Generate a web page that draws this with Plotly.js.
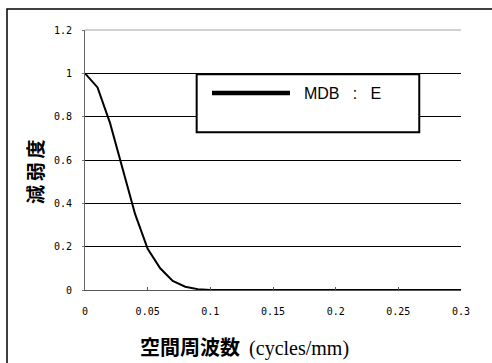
<!DOCTYPE html>
<html>
<head>
<meta charset="utf-8">
<script src="https://cdn.plot.ly/plotly-3.0.1.min.js"></script>
<style>html,body{margin:0;padding:0;background:#fff;}#chart{width:492px;height:363px;}</style>
</head>
<body>
<div id="chart"></div>
<script>
const seriesName = "\u00a0\u00a0MDB \u00a0\u00a0:\u00a0\u00a0 E";
const freq = [0, 0.01, 0.02, 0.03, 0.04, 0.05, 0.06, 0.07, 0.08, 0.09, 0.1, 0.15, 0.2, 0.25, 0.3];
const attenuation = [1.0, 0.935, 0.77, 0.56, 0.35, 0.19, 0.10, 0.042, 0.015, 0.004, 0.0, 0.0, 0.0, 0.0, 0.0];
const xTicks = [0, 0.05, 0.1, 0.15, 0.2, 0.25, 0.3];
const xTickText = ["0", "0.05", "0.1", "0.15", "0.2", "0.25", "0.3"];
const yTicks = [0, 0.2, 0.4, 0.6, 0.8, 1, 1.2];
const yTickText = ["0", "0.2", "0.4", "0.6", "0.8", "1", "1.2"];
const xTitle = '<span style="font-family:Noto Sans CJK JP">空間周波数</span>  <span style="font-family:Liberation Serif;font-weight:normal">(cycles/mm)</span>';
const yTitle = "減\u2009弱\u2009度";

const tickFont = {family: "DejaVu Sans Mono", size: 10, color: "#000"};

const data = [
  {x: freq, y: attenuation, type: "scatter", mode: "lines",
   name: seriesName, showlegend: false,
   line: {color: "#000", width: 2}},
  // legend-only entry (single point -> no visible line in plot), thicker sample like the reference
  {x: freq.slice(0, 1), y: attenuation.slice(0, 1), type: "scatter", mode: "lines",
   name: seriesName, showlegend: true, hoverinfo: "skip",
   line: {color: "#000", width: 4.5}}
];

const layout = {
  width: 492, height: 363,
  margin: {l: 85, r: 31, t: 30, b: 73},
  paper_bgcolor: "#fff", plot_bgcolor: "#fff",
  showlegend: true,
  legend: {
    x: (207 - 85) / 376, y: (290 - 76) / 260, xanchor: "left", yanchor: "top",
    bgcolor: "rgba(0,0,0,0)", borderwidth: 0,
    font: {family: "Liberation Sans", size: 16, color: "#000"},
    itemwidth: 78
  },
  xaxis: {
    range: [0, 0.3], tickvals: xTicks, ticktext: xTickText,
    ticks: "inside", ticklen: 3, tickcolor: "#555",
    showline: true, linecolor: "#555", linewidth: 1,
    showgrid: false, zeroline: false, ticklabelstandoff: 12,
    tickfont: tickFont
  },
  yaxis: {
    range: [0, 1.2], tickvals: yTicks, ticktext: yTickText,
    ticks: "outside", ticklen: 2, tickcolor: "#777",
    showline: true, linecolor: "#666", linewidth: 1,
    showgrid: true, gridcolor: "#000", gridwidth: 1,
    zeroline: false, ticklabelstandoff: 8,
    tickfont: tickFont
  },
  annotations: [
    {text: xTitle, xref: "paper", yref: "paper", x: (244 - 85) / 376, y: (290 - 346) / 260,
     xanchor: "center", yanchor: "middle", showarrow: false,
     font: {family: "Noto Sans CJK JP", size: 20, color: "#000", weight: "bold"}},
    {text: yTitle, xref: "paper", yref: "paper", x: (34 - 85) / 376, y: (290 - 172) / 260,
     xanchor: "center", yanchor: "middle", showarrow: false, textangle: -90,
     font: {family: "Noto Sans CJK JP", size: 19, color: "#000", weight: "bold"}}
  ],
  shapes: [
    {type: "line", xref: "paper", yref: "paper", x0: 0, x1: 1, y0: 1, y1: 1,
     line: {color: "#c0c0c0", width: 1.5}, layer: "above"},
    {type: "rect", xref: "paper", yref: "paper", x0: 0.297, x1: 0.889, y0: 0.6065, y1: 0.8296,
     line: {color: "#000", width: 2}, fillcolor: "#fff", layer: "above"},
    {type: "rect", xref: "paper", yref: "paper", x0: (7 - 85) / 376, x1: (500 - 85) / 376,
     y0: (290 - 380) / 260, y1: (290 - 9) / 260,
     line: {color: "#000", width: 1.5}, fillcolor: "rgba(0,0,0,0)", layer: "below"}
  ]
};

Plotly.newPlot("chart", data, layout, {displayModeBar: false, staticPlot: true});
</script>
</body>
</html>
